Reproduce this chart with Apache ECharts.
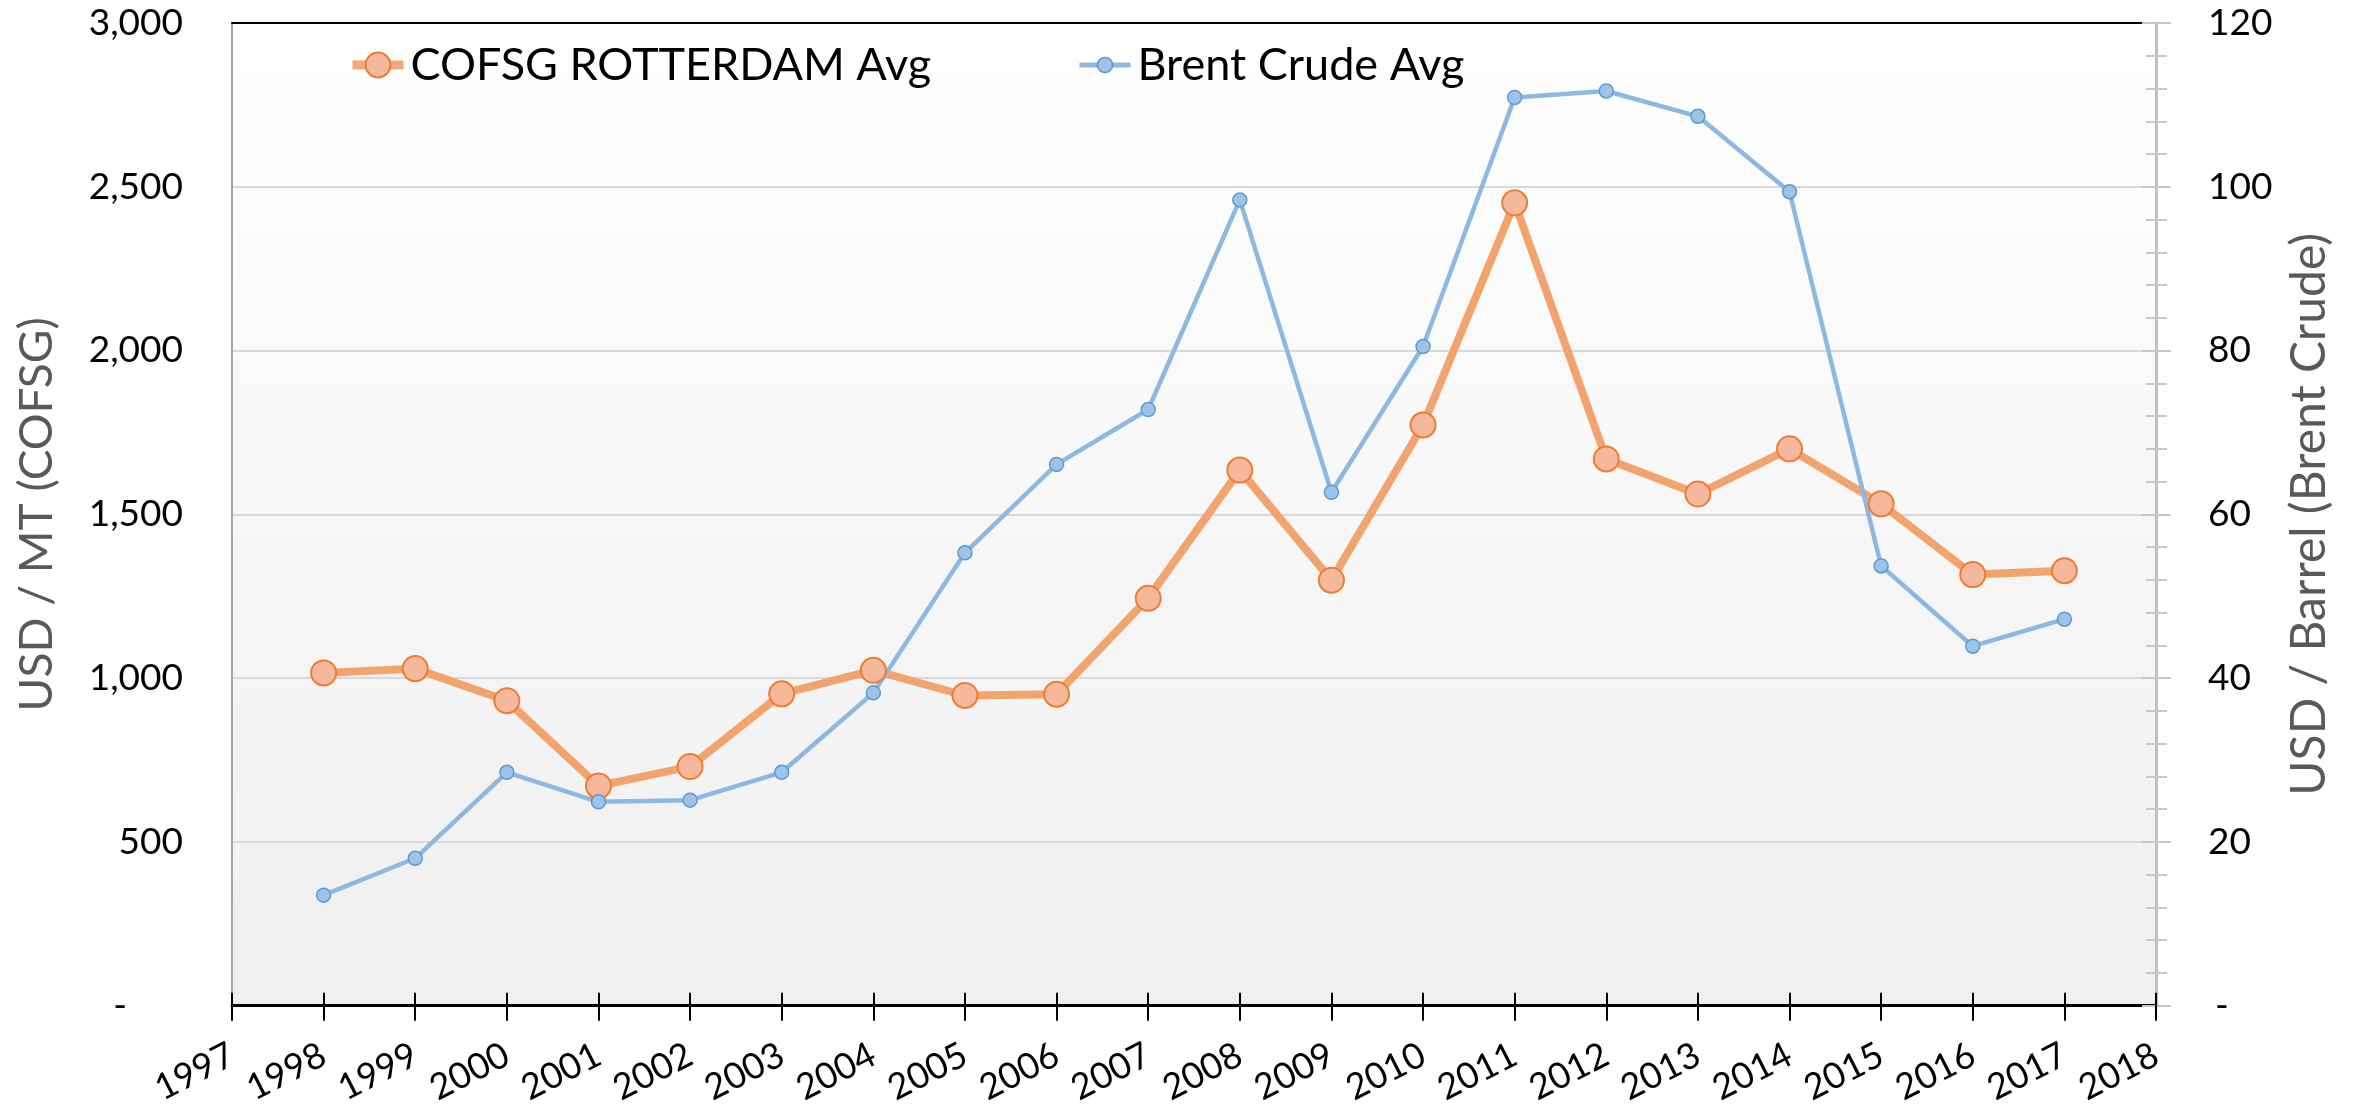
<!DOCTYPE html>
<html>
<head>
<meta charset="utf-8">
<script src="https://cdn.jsdelivr.net/npm/echarts@6/dist/echarts.min.js"></script>
<style>
html,body{margin:0;padding:0;background:#fff;}
#chart{width:2366px;height:1108px;}
</style>
</head>
<body>
<div id="chart"></div>
<script>
// ---- data ----
var years = [1998,1999,2000,2001,2002,2003,2004,2005,2006,2007,2008,2009,2010,2011,2012,2013,2014,2015,2016,2017];
var cofsgAvg = [1016,1029,931,671,730,952,1024,947,951,1244,1635,1299,1773,2451,1669,1562,1700,1532,1316,1328];
var brentAvg = [13.5,18.0,28.5,24.9,25.1,28.5,38.2,55.3,66.1,72.8,98.4,62.7,80.5,110.9,111.7,108.6,99.4,53.7,43.9,47.2];
var seriesNames = ['COFSG ROTTERDAM Avg','Brent Crude Avg'];
var leftAxisName = 'USD / MT (COFSG)';
var rightAxisName = 'USD / Barrel (Brent Crude)';
var xRange = [1997, 2018];

var FONT = 'Lato';
var chart = echarts.init(document.getElementById('chart'));

function pairs(vals){ return years.map(function(y,i){ return [y, vals[i]]; }); }

var option = {
  animation: false,
  grid: {
    left: 232, right: 210, top: 23, bottom: 101,
    show: true, borderWidth: 0,
    backgroundColor: new echarts.graphic.LinearGradient(0,0,0,1,[
      {offset:0,color:'#ffffff'},{offset:1,color:'#efefef'}
    ])
  },
  legend: [
    {
      data: [seriesNames[0]], left: 348, top: 40, padding: 0,
      itemWidth: 51, itemHeight: 31, itemGap: 0,
      textStyle: {fontFamily: FONT, fontSize: 45, color: '#000', lineHeight: 50, padding:[0,0,0,2]},
      lineStyle: {width: 9, color: '#f3a878'},
      itemStyle: {color: '#f5b89c', borderColor: '#ed7d31', borderWidth: 2}
    },
    {
      data: [seriesNames[1]], left: 1077, top: 40, padding: 0,
      itemWidth: 51, itemHeight: 19, itemGap: 0,
      textStyle: {fontFamily: FONT, fontSize: 45, color: '#000', lineHeight: 50, padding:[0,0,0,2]},
      lineStyle: {width: 5, color: '#8cb8e2'},
      itemStyle: {color: '#9dc3e6', borderColor: '#5b9bd5', borderWidth: 1.5}
    }
  ],
  xAxis: [
    {
      type: 'value', min: xRange[0], max: xRange[1], interval: 1,
      position: 'bottom',
      axisLine: {show: true, onZero: false, lineStyle: {color: '#000', width: 3}},
      axisTick: {show: true, inside: false, length: 15, lineStyle: {color: '#000', width: 2}},
      axisLabel: {
        show: true, rotate: 27, margin: 47,
        fontFamily: FONT, fontSize: 36, color: '#000',
        formatter: function(v){ return String(v); }
      },
      splitLine: {show: false}
    },
    {
      type: 'value', min: xRange[0], max: xRange[1], interval: 1,
      position: 'bottom',
      axisLine: {show: false, onZero: false},
      axisTick: {show: true, inside: true, length: 13, lineStyle: {color: '#000', width: 2}},
      axisLabel: {show: false},
      splitLine: {show: false}
    },
    {
      type: 'value', min: xRange[0], max: xRange[1], interval: 1,
      position: 'top',
      axisLine: {show: true, onZero: false, lineStyle: {color: '#000', width: 2}},
      axisTick: {show: false}, axisLabel: {show: false}, splitLine: {show: false}
    }
  ],
  yAxis: [
    {
      type: 'value', min: 0, max: 3000, interval: 500, position: 'left',
      name: leftAxisName, nameLocation: 'middle', nameGap: 172, nameRotate: 90,
      nameTextStyle: {fontFamily: FONT, fontSize: 46, color: '#595959'},
      axisLine: {show: true, onZero: false, lineStyle: {color: '#a6a6a6', width: 2}},
      axisTick: {show: false},
      axisLabel: {
        margin: 49, fontFamily: FONT, fontSize: 37, color: '#000',
        formatter: function(v){ return v === 0 ? '{z|-}' : v.toLocaleString('en-US'); },
        rich: {z: {fontFamily: FONT, fontSize: 37, color: '#000', padding: [0,56,0,0]}}
      },
      splitLine: {show: true, lineStyle: {color: '#d9d9d9', width: 2}}
    },
    {
      type: 'value', min: 0, max: 120, interval: 20, position: 'right',
      name: rightAxisName, nameLocation: 'middle', nameGap: 130, nameRotate: 90,
      nameTextStyle: {fontFamily: FONT, fontSize: 48, color: '#595959'},
      axisLine: {show: true, onZero: false, lineStyle: {color: '#bfbfbf', width: 3}},
      axisTick: {show: true, inside: false, length: 15, lineStyle: {color: '#c8c8c8', width: 2}},
      minorTick: {show: true, splitNumber: 5, length: 11, lineStyle: {color: '#c8c8c8', width: 2}},
      axisLabel: {
        margin: 52, fontFamily: FONT, fontSize: 37, color: '#000',
        formatter: function(v){ return v === 0 ? '{z|-}' : String(v); },
        rich: {z: {fontFamily: FONT, fontSize: 37, color: '#000', padding: [0,0,0,7]}}
      },
      splitLine: {show: false}
    },
    {
      type: 'value', min: 0, max: 120, interval: 20, position: 'right',
      axisLine: {show: false, onZero: false},
      axisTick: {show: true, inside: true, length: 14, lineStyle: {color: '#c8c8c8', width: 2}},
      minorTick: {show: true, splitNumber: 5, length: 10, lineStyle: {color: '#c8c8c8', width: 2}},
      axisLabel: {show: false},
      splitLine: {show: false}
    }
  ],
  series: [
    {
      name: seriesNames[0], type: 'line', xAxisIndex: 0, yAxisIndex: 0,
      data: pairs(cofsgAvg),
      symbol: 'circle', symbolSize: 25,
      lineStyle: {color: '#f2a46e', width: 8},
      itemStyle: {color: '#f5b89c', borderColor: '#ed7d31', borderWidth: 2}
    },
    {
      name: seriesNames[1], type: 'line', xAxisIndex: 0, yAxisIndex: 1,
      data: pairs(brentAvg),
      symbol: 'circle', symbolSize: 14,
      lineStyle: {color: '#8cb8e2', width: 4.5},
      itemStyle: {color: '#9dc3e6', borderColor: '#5b9bd5', borderWidth: 1.5}
    }
  ]
};
chart.setOption(option);
</script>
</body>
</html>
